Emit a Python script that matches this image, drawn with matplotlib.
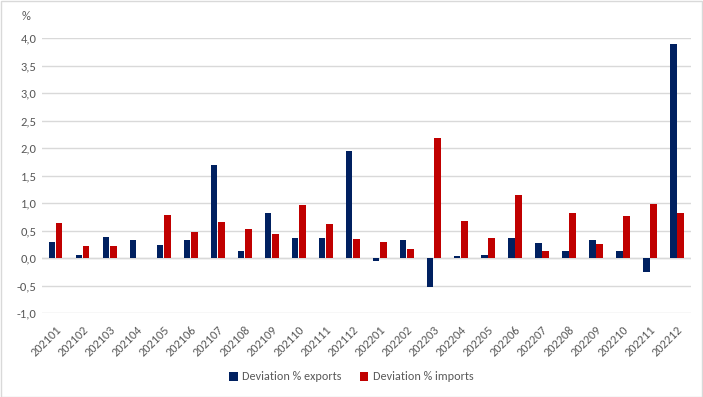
import numpy as np
import matplotlib
matplotlib.use("Agg")
import matplotlib.pyplot as plt
from matplotlib.ticker import FuncFormatter, MultipleLocator
from matplotlib.patches import Rectangle

# Monthly deviation (%) between preliminary and final figures
months = ["202101", "202102", "202103", "202104", "202105", "202106",
          "202107", "202108", "202109", "202110", "202111", "202112",
          "202201", "202202", "202203", "202204", "202205", "202206",
          "202207", "202208", "202209", "202210", "202211", "202212"]
exports = [0.29, 0.06, 0.39, 0.32, 0.24, 0.32, 1.70, 0.12, 0.81, 0.37, 0.37, 1.95,
           -0.06, 0.33, -0.53, 0.04, 0.06, 0.37, 0.28, 0.12, 0.33, 0.13, -0.26, 3.90]
imports = [0.63, 0.22, 0.22, 0.00, 0.78, 0.48, 0.66, 0.53, 0.44, 0.97, 0.61, 0.35,
           0.30, 0.17, 2.19, 0.68, 0.37, 1.15, 0.12, 0.82, 0.26, 0.77, 0.99, 0.81]

navy = "#002060"
red = "#C00000"
txt = "#595959"

plt.rcParams['font.family'] = ['Carlito', 'Liberation Sans', 'DejaVu Sans']

fig = plt.figure(figsize=(7.03, 3.97), dpi=100)
ax = fig.add_axes([42 / 703, 84 / 397, 648.5 / 703, 275 / 397])

x = np.arange(len(months))
w = 0.245
ax.bar(x - 0.135, exports, w, color=navy, label="Deviation % exports", zorder=3)
ax.bar(x + 0.135, imports, w, color=red, label="Deviation % imports", zorder=3)

ax.set_xlim(-0.5, len(months) - 0.5)
ax.set_ylim(-1.0, 4.0)
ax.yaxis.set_major_locator(MultipleLocator(0.5))
ax.yaxis.set_major_formatter(FuncFormatter(lambda v, p: f"{v:.1f}".replace(".", ",")))
ax.grid(axis="y", color="#D9D9D9", linewidth=1, zorder=0)
ax.axhline(0, color="#D9D9D9", linewidth=1, zorder=1)
for s in ax.spines.values():
    s.set_visible(False)

ax.set_xticks(x)
ax.set_xticklabels(months, rotation=45, ha="right", rotation_mode="anchor")
ax.tick_params(axis="both", length=0, colors=txt, labelsize=9, pad=4)
ax.tick_params(axis="x", pad=8, labelsize=8.8)

fig.text(22 / 703, 1 - 16 / 397, "%", color=txt, fontsize=9, ha="left", va="center")

ax.legend(loc="center", bbox_to_anchor=(0.5, (397 - 377) / 397), bbox_transform=fig.transFigure,
          ncol=2, frameon=False, fontsize=8.7, labelcolor=txt, handlelength=0.7,
          handleheight=0.7, handletextpad=0.4, columnspacing=1.5)

fig.patches.append(Rectangle((0.001, 0.001), 0.998, 0.997, transform=fig.transFigure,
                             fill=False, edgecolor="#D9D9D9", linewidth=1))

fig.savefig("out.png", dpi=100)
